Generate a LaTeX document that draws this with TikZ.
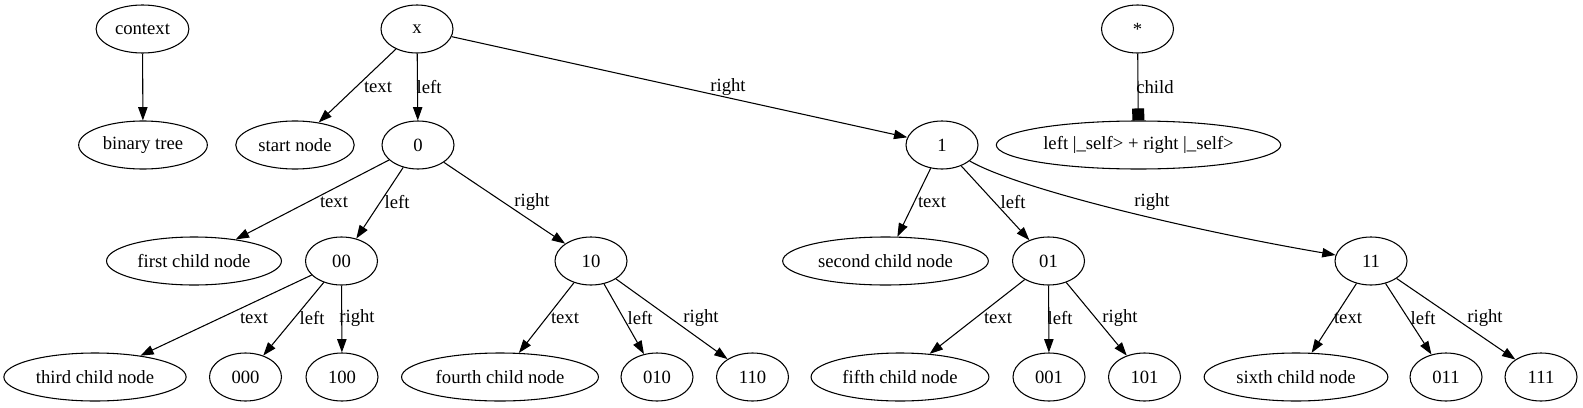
\documentclass[tikz,border=0pt]{standalone}
\usepackage{fontspec}
\setmainfont{Liberation Serif}
\usetikzlibrary{arrows.meta,shapes.geometric}

\begin{document}
\begin{tikzpicture}[x=0.75pt,y=-0.75pt,
  vertex/.style={ellipse,draw,line width=0.8pt,inner xsep=4pt,inner ysep=2pt,minimum width=54pt,minimum height=36pt,font=\rmfamily\fontsize{14}{16}\selectfont},
  arrow/.style={-{Triangle[length=10pt,width=7pt]},line width=0.8pt},
  boxarrow/.style={-{Square[length=9pt,width=9pt]},line width=0.8pt},
  tag/.style={inner sep=0pt,font=\rmfamily\fontsize{14}{16}\selectfont}
  ]
  \useasboundingbox (0,0) rectangle (1583,407);

  % top row
  \node[vertex] (context) at (142.5,29) {context};
  \node[vertex] (x) at (417,29) {x};
  \node[vertex] (star) at (1137.5,29) {*};

  % second row
  \node[vertex] (btree) at (143,145) {binary tree};
  \node[vertex] (start) at (295,145) {start node};
  \node[vertex] (n0) at (418,145) {0};
  \node[vertex] (n1) at (942,145) {1};
  \node[vertex] (self) at (1138.5,145) {left |\_self> + right |\_self>};

  % third row
  \node[vertex] (first) at (194,261) {first child node};
  \node[vertex] (n00) at (341.5,261) {00};
  \node[vertex] (n10) at (591,261) {10};
  \node[vertex] (second) at (885.5,261) {second child node};
  \node[vertex] (n01) at (1048.5,261) {01};
  \node[vertex] (n11) at (1371,261) {11};

  % bottom row
  \node[vertex] (third) at (95,377) {third child node};
  \node[vertex] (n000) at (245.5,377) {000};
  \node[vertex] (n100) at (342,377) {100};
  \node[vertex] (fourth) at (500,377) {fourth child node};
  \node[vertex] (n010) at (657,377) {010};
  \node[vertex] (n110) at (752.5,377) {110};
  \node[vertex] (fifth) at (900,377) {fifth child node};
  \node[vertex] (n001) at (1049,377) {001};
  \node[vertex] (n101) at (1144.5,377) {101};
  \node[vertex] (sixth) at (1296,377) {sixth child node};
  \node[vertex] (n011) at (1446,377) {011};
  \node[vertex] (n111) at (1541,377) {111};

  \draw[arrow] (context) to (btree);
  \draw[arrow] (x) to (start);
  \draw[arrow] (x) to (n0);
  \draw[arrow] (x) to (n1);
  \draw[boxarrow] (star) to (self);

  \draw[arrow] (n0) to (first);
  \draw[arrow] (n0) to (n00);
  \draw[arrow] (n0) to (n10);
  \draw[arrow] (n1) to (second);
  \draw[arrow] (n1) to (n01);
  % bends under its label
  \draw[arrow] (n1) .. controls (1020,190) and (1200,232) .. (n11);

  \draw[arrow] (n00) to (third);
  \draw[arrow] (n00) to (n000);
  \draw[arrow] (n00) to (n100);
  \draw[arrow] (n10) to (fourth);
  \draw[arrow] (n10) to (n010);
  \draw[arrow] (n10) to (n110);
  \draw[arrow] (n01) to (fifth);
  \draw[arrow] (n01) to (n001);
  \draw[arrow] (n01) to (n101);
  \draw[arrow] (n11) to (sixth);
  \draw[arrow] (n11) to (n011);
  \draw[arrow] (n11) to (n111);

  % edge labels, one row between each pair of ranks
  \node[tag] (tx) at (378,87) {text};
  \node[tag] (lx) at (429,87) {left};
  \node[tag] (rx) at (728,87) {right};
  \node[tag] (cstar) at (1155,87) {child};

  \node[tag] (t0) at (334,202) {text};
  \node[tag] (l0) at (397,202) {left};
  \node[tag] (r0) at (532,202) {right};
  \node[tag] (t1) at (932,202) {text};
  \node[tag] (l1) at (1013,202) {left};
  \node[tag] (r1) at (1152,202) {right};

  \node[tag] (t00) at (254,318) {text};
  \node[tag] (l00) at (312,318) {left};
  \node[tag] (r00) at (357,318) {right};
  \node[tag] (t10) at (565,318) {text};
  \node[tag] (l10) at (640,318) {left};
  \node[tag] (r10) at (701,318) {right};
  \node[tag] (t01) at (998,318) {text};
  \node[tag] (l01) at (1060,318) {left};
  \node[tag] (r01) at (1120,318) {right};
  \node[tag] (t11) at (1348,318) {text};
  \node[tag] (l11) at (1423,318) {left};
  \node[tag] (r11) at (1485,318) {right};
\end{tikzpicture}
\end{document}
